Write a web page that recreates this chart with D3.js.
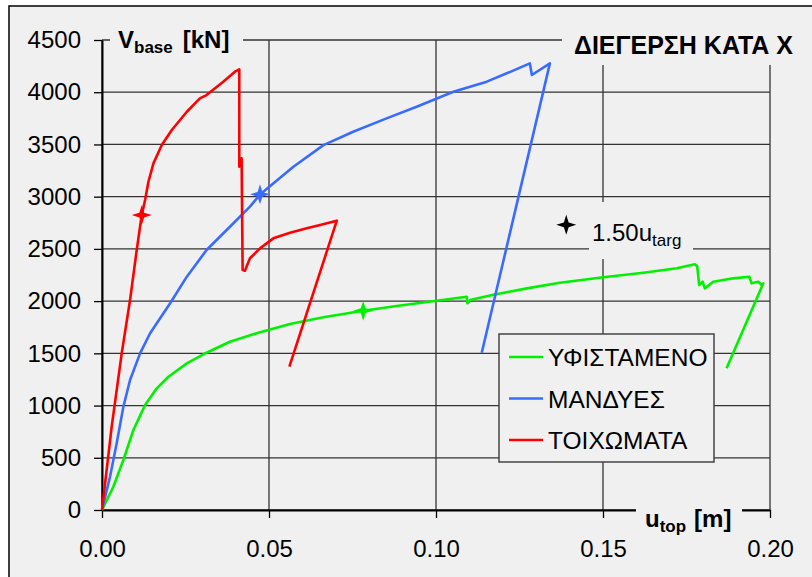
<!DOCTYPE html>
<html>
<head>
<meta charset="utf-8">
<script src="https://cdn.jsdelivr.net/npm/d3@7"></script>
<style>
  body { margin: 0; background: #fff; }
  text { font-family: "Liberation Sans", Arial, sans-serif; fill: #000; }
</style>
</head>
<body>
<script>
// Width and height
var w = 812,
    h = 577;

// tick labels
var uTicks = [0, 0.05, 0.10, 0.15, 0.20];
var vTicks = [0, 500, 1000, 1500, 2000, 2500, 3000, 3500, 4000, 4500];

// series names (legend order)
var seriesNames = ['ΥΦΙΣΤΑΜΕΝΟ', 'ΜΑΝΔΥΕΣ', 'ΤΟΙΧΩΜΑΤΑ'];
var seriesColors = ['#00f000', '#3a6bff', '#ff0000'];

// pushover curves [u_top (m), V_base (kN)]
var existing = [
  [0, 0], [0.0034, 223], [0.0064, 479], [0.0094, 766], [0.0129, 1005],
  [0.0164, 1165], [0.0199, 1276], [0.0254, 1404], [0.0313, 1506], [0.0383, 1611],
  [0.0463, 1692], [0.0563, 1781], [0.0663, 1845], [0.0782, 1908], [0.0882, 1953],
  [0.1002, 2004], [0.1092, 2042], [0.1094, 1979], [0.1102, 2010], [0.1172, 2060],
  [0.1272, 2122], [0.1371, 2176], [0.1501, 2228], [0.1621, 2272], [0.1721, 2314],
  [0.1775, 2352], [0.1782, 2335], [0.1788, 2154], [0.1798, 2186], [0.1805, 2122],
  [0.1830, 2186], [0.1890, 2218], [0.1938, 2234], [0.1945, 2170], [0.1965, 2186],
  [0.1975, 2154], [0.1980, 2170], [0.1870, 1357]
];

var jackets = [
  [0, 0], [0.0024, 319], [0.0044, 638], [0.0064, 989], [0.0084, 1245],
  [0.0114, 1500], [0.0144, 1692], [0.0204, 1979], [0.0254, 2234], [0.0313, 2489],
  [0.0383, 2712], [0.0443, 2904], [0.0473, 3020], [0.0573, 3287], [0.0663, 3494],
  [0.0752, 3622], [0.0852, 3750], [0.0942, 3861], [0.1052, 4005], [0.1152, 4101],
  [0.1212, 4181], [0.1281, 4276], [0.1287, 4165], [0.1341, 4276], [0.1137, 1506]
];

var walls = [
  [0, 0], [0.0029, 798], [0.0059, 1500], [0.0084, 2010], [0.0104, 2490],
  [0.0119, 2824], [0.0129, 2968], [0.0139, 3143], [0.0154, 3319], [0.0179, 3494],
  [0.0209, 3638], [0.0254, 3813], [0.0293, 3941], [0.0313, 3973], [0.0363, 4101],
  [0.0398, 4197], [0.0411, 4219], [0.0411, 3287], [0.0418, 3367], [0.0421, 2298],
  [0.0428, 2291], [0.0443, 2410], [0.0473, 2505], [0.0513, 2601], [0.0563, 2655],
  [0.0613, 2697], [0.0653, 2729], [0.0703, 2770], [0.0561, 1372]
];

// 1.50 u_targ points on each curve
var targPoints = [[0.0782, 1908], [0.0473, 3022], [0.0119, 2824]];
// position of the annotation star
var annotPoint = [0.139, 2730];

var allSeries = [existing, jackets, walls];

var xScale = d3.scaleLinear().domain([0, 0.2]).range([102, 770]);
var yScale = d3.scaleLinear().domain([0, 4500]).range([510, 40]);

var svg = d3.select('body')
            .append('svg')
            .attr('width', w)
            .attr('height', h);

// chart area
svg.append('rect')
   .attr('x', 9).attr('y', 6)
   .attr('width', w + 10).attr('height', h + 10)
   .attr('fill', '#f0f0f0')
   .attr('stroke', '#000')
   .attr('stroke-width', 1.5);

// gridlines
svg.append('g').selectAll('line')
   .data(vTicks)
   .enter().append('line')
   .attr('x1', xScale(0)).attr('x2', xScale(0.2))
   .attr('y1', function(d) { return yScale(d); })
   .attr('y2', function(d) { return yScale(d); })
   .attr('stroke', '#333').attr('stroke-width', 1.3);

svg.append('g').selectAll('line')
   .data(uTicks)
   .enter().append('line')
   .attr('x1', function(d) { return xScale(d); })
   .attr('x2', function(d) { return xScale(d); })
   .attr('y1', yScale(4500)).attr('y2', yScale(0))
   .attr('stroke', '#333').attr('stroke-width', 1.3);

// axes
var yAxis = d3.axisLeft(yScale)
              .tickValues(vTicks)
              .tickSize(8)
              .tickSizeOuter(0)
              .tickPadding(13)
              .tickFormat(d3.format('d'));

var xAxis = d3.axisBottom(xScale)
              .tickValues(uTicks)
              .tickSize(8)
              .tickSizeOuter(0)
              .tickFormat(d3.format('.2f'));

var gy = svg.append('g')
   .attr('transform', 'translate(' + xScale(0) + ',0)')
   .call(yAxis);

var gx = svg.append('g')
   .attr('transform', 'translate(0,' + yScale(0) + ')')
   .call(xAxis);

[gx, gy].forEach(function(g) {
  g.select('.domain').attr('stroke', '#000').attr('stroke-width', 2);
  g.selectAll('.tick line').attr('stroke', '#000').attr('stroke-width', 1.3);
  g.selectAll('.tick text')
   .style('font-family', '"Liberation Sans", Arial, sans-serif')
   .style('font-size', '24px')
   .attr('fill', '#000');
});
gx.selectAll('.tick text').attr('y', 47).attr('dy', 0);

// boxes behind labels
function labelBox(x, y, bw, bh) {
  svg.append('rect')
     .attr('x', x).attr('y', y)
     .attr('width', bw).attr('height', bh)
     .attr('fill', '#f0f0f0');
}
labelBox(110, 22, 133, 36);
labelBox(562, 20, 250, 45);
labelBox(636, 498, 106, 38);
labelBox(589, 202, 104, 57);

// curves
var line = d3.line()
             .x(function(d) { return xScale(d[0]); })
             .y(function(d) { return yScale(d[1]); });

svg.append('g').selectAll('path')
   .data(allSeries)
   .enter().append('path')
   .attr('d', line)
   .attr('fill', 'none')
   .attr('stroke', function(d, i) { return seriesColors[i]; })
   .attr('stroke-width', 2.6)
   .attr('stroke-linejoin', 'round');

// four pointed star
var star = d3.lineRadial()
             .angle(function(d, i) { return i * Math.PI / 4; })
             .radius(function(d, i) { return i % 2 ? 3.4 : 10; })
             .curve(d3.curveLinearClosed);
var starPath = star(d3.range(8));

svg.append('g').selectAll('path')
   .data(targPoints)
   .enter().append('path')
   .attr('d', starPath)
   .attr('transform', function(d) {
     return 'translate(' + xScale(d[0]) + ',' + yScale(d[1]) + ')';
   })
   .attr('fill', function(d, i) { return seriesColors[i]; });

svg.append('path')
   .attr('d', starPath)
   .attr('transform', 'translate(' + xScale(annotPoint[0]) + ',' + yScale(annotPoint[1]) + ')')
   .attr('fill', '#000');

// labels
var vLabel = svg.append('text')
   .attr('x', 118).attr('y', 48)
   .style('font-size', '24px')
   .style('font-weight', 'bold');
vLabel.append('tspan').text('V');
vLabel.append('tspan').attr('dy', 5).style('font-size', '17px').text('base');
vLabel.append('tspan').attr('dy', -5).attr('dx', 10).text('[kN]');

var uLabel = svg.append('text')
   .attr('x', 645).attr('y', 527)
   .style('font-size', '24px')
   .style('font-weight', 'bold');
uLabel.append('tspan').text('u');
uLabel.append('tspan').attr('dy', 5).style('font-size', '17px').text('top');
uLabel.append('tspan').attr('dy', -5).attr('dx', 8).text('[m]');

svg.append('text')
   .attr('x', 793).attr('y', 54)
   .attr('text-anchor', 'end')
   .style('font-size', '25px')
   .style('font-weight', 'bold')
   .text('ΔΙΕΓΕΡΣΗ ΚΑΤΑ Χ');

var tLabel = svg.append('text')
   .attr('x', 592).attr('y', 241)
   .style('font-size', '24px');
tLabel.append('tspan').text('1.50u');
tLabel.append('tspan').attr('dy', 5).style('font-size', '17px').text('targ');

// legend
var legend = svg.append('g');
legend.append('rect')
      .attr('x', 499).attr('y', 334)
      .attr('width', 215).attr('height', 128)
      .attr('fill', '#f0f0f0')
      .attr('stroke', '#444')
      .attr('stroke-width', 1.5);

var items = legend.selectAll('g.item')
      .data(seriesNames)
      .enter().append('g')
      .attr('transform', function(d, i) { return 'translate(0,' + (357 + i * 41.5) + ')'; });

items.append('line')
     .attr('x1', 509).attr('x2', 543)
     .attr('stroke', function(d, i) { return seriesColors[i]; })
     .attr('stroke-width', 2.5);

items.append('text')
     .attr('x', 548).attr('y', 9)
     .style('font-size', '24.5px')
     .text(function(d) { return d; });
</script>
</body>
</html>
